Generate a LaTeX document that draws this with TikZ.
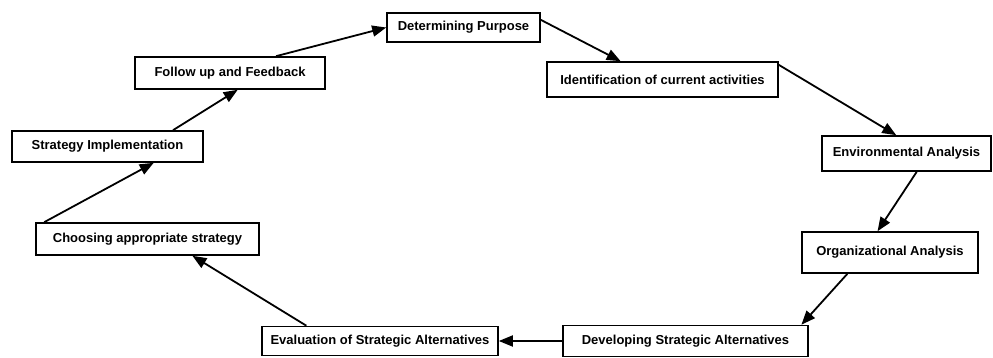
\documentclass[tikz,border=0pt]{standalone}
\usepackage{fontspec}
\setmainfont{Liberation Sans}
\usetikzlibrary{arrows.meta,calc}

\tikzset{
  stage/.style={draw, line width=1.6pt, rectangle, inner sep=0pt,
    font=\fontsize{13pt}{15pt}\selectfont\bfseries},
  flow/.style={line width=1.8pt, -{Triangle[length=14pt,width=11pt]}}
}

\begin{document}
\begin{tikzpicture}[x=1pt,y=-1pt]
  \useasboundingbox (0,0) rectangle (993,358);

  % stages of the cycle
  \node[stage, minimum width=153pt, minimum height=29pt] (purpose)   at (463.5,27.5) {Determining Purpose};
  \node[stage, minimum width=231pt, minimum height=35pt] (identify)  at (662.5,79.5) {Identification of current activities};
  \node[stage, minimum width=169pt, minimum height=35pt] (env)       at (906.5,153.5) {Environmental Analysis};
  \node[stage, minimum width=176pt, minimum height=41pt] (org)       at (890,252.5) {Organizational Analysis};
  \node[stage, minimum width=245pt, minimum height=31pt] (develop)   at (685.5,341) {Developing Strategic Alternatives};
  \node[stage, minimum width=236pt, minimum height=29pt] (eval)      at (380,341) {Evaluation of Strategic Alternatives};
  \node[stage, minimum width=223pt, minimum height=32pt] (choose)    at (147.5,239) {Choosing appropriate strategy};
  \node[stage, minimum width=191pt, minimum height=31pt] (implement) at (107.5,146.5) {Strategy Implementation};
  \node[stage, minimum width=190pt, minimum height=32pt] (follow)    at (230,73) {Follow up and Feedback};

  % connectors between the stages
  \draw[flow] ($(follow.north west)!0.74!(follow.north east)$) -- (purpose.west);
  \draw[flow] ($(purpose.north east)!0.25!(purpose.south east)$) -- ($(identify.north west)!0.32!(identify.north east)$);
  \draw[flow] ($(identify.north east)!0.1!(identify.south east)$) -- ($(env.north west)!0.44!(env.north east)$);
  \draw[flow] ($(env.south west)!0.56!(env.south east)$) -- ($(org.north west)!0.43!(org.north east)$);
  \draw[flow] ($(org.south west)!0.26!(org.south east)$) -- ($(develop.north west)!0.97!(develop.north east)$);
  \draw[flow] (develop.west) -- (eval.east);
  \draw[flow] ($(eval.north west)!0.19!(eval.north east)$) -- ($(choose.south west)!0.70!(choose.south east)$);
  \draw[flow] ($(choose.north west)!0.04!(choose.north east)$) -- ($(implement.south west)!0.74!(implement.south east)$);
  \draw[flow] ($(implement.north west)!0.84!(implement.north east)$) -- ($(follow.south west)!0.54!(follow.south east)$);
\end{tikzpicture}
\end{document}
